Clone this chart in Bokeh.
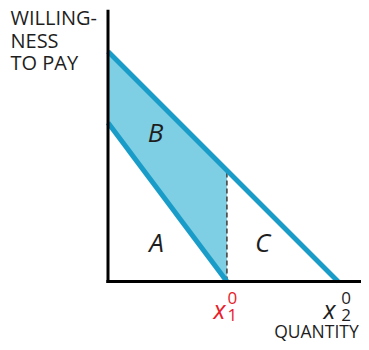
import numpy as np
from bokeh.plotting import figure
from bokeh.models import Range1d
from bokeh.core.properties import value
from bokeh.embed import file_html
from bokeh.resources import INLINE

# ---- data ----
upper_q = [0, 10]        # high-demand line: quantity
upper_wtp = [10, 0]      # high-demand line: willingness to pay
lower_q = [0, 5.17]      # low-demand line
lower_wtp = [6.9, 0]
x1 = 5.17
x2 = 10.0
area_labels = ["A", "B", "C"]
area_x = [2.11, 2.07, 6.72]
area_y = [1.72, 6.50, 1.72]
y_title = ["WILLING-", "NESS", "TO PAY"]
x_title = "QUANTITY"

BLUE = "#1A9CC8"
FILL = "#7ECFE4"
RED = "#E8202A"
INK = "#1E1E1E"
FONT = "Open Sans"

W, H = 361, 342
S = 23.0
x0 = -107.5 / S
y0 = -61 / S

p = figure(width=W, height=H, output_backend="svg", toolbar_location=None,
           x_range=Range1d(x0, x0 + W / S), y_range=Range1d(y0, y0 + H / S),
           min_border=0, outline_line_color=None)
p.axis.visible = False
p.grid.visible = False
p.background_fill_color = "white"
p.border_fill_color = "white"

# shaded area B
u_at_x1 = float(np.interp(x1, upper_q, upper_wtp))
p.patch([0, 0, x1, x1], [lower_wtp[0], upper_wtp[0], u_at_x1, 0],
        fill_color=FILL, line_color=None)

# dashed vertical at x1
p.line([x1, x1], [0, u_at_x1], line_color="#444444", line_width=1.6, line_dash="5 3")

# demand lines
p.line(upper_q, upper_wtp, line_color=BLUE, line_width=5)
p.line(lower_q, lower_wtp, line_color=BLUE, line_width=5)

# axes
p.line([0, 0], [-0.07, 11.81], line_color="black", line_width=3)
p.line([-0.07, 11.33], [0, 0], line_color="black", line_width=3)

# area labels
p.text(area_x, area_y, text=area_labels, text_font=value(FONT), text_font_style="italic",
       text_font_size="26px", text_align="center", text_baseline="alphabetic",
       text_color=INK)

# y axis title
p.text([-4.24] * 3, [11.47, 10.5, 9.54], text=y_title, text_font=value(FONT),
       text_font_size="20px", text_align="left", text_baseline="alphabetic",
       text_color=INK)

# x axis title
p.text([10.9], [-2.15], text=[x_title], text_font=value(FONT),
       text_font_size="17.5px", text_align="right", text_baseline="alphabetic",
       text_color=INK)

# x1^0 and x2^0 tick labels
for xv, sub, col, dx_x, dx_d in [(x1, "1", RED, -7.4, 5.5), (x2, "2", INK, -8.5, 8.0)]:
    p.text([xv], [0], text=["x"], text_font=value(FONT), text_font_style="italic",
           text_font_size="25px", text_align="center", text_baseline="alphabetic",
           text_color=col, x_offset=dx_x, y_offset=27)
    p.text([xv], [0], text=["0"], text_font=value(FONT),
           text_font_size="17px", text_align="center", text_baseline="alphabetic",
           text_color=col, x_offset=dx_d, y_offset=16)
    p.text([xv], [0], text=[sub], text_font=value(FONT),
           text_font_size="17px", text_align="center", text_baseline="alphabetic",
           text_color=col, x_offset=dx_d, y_offset=33)

open("out.html", "w").write(file_html(p, INLINE))
